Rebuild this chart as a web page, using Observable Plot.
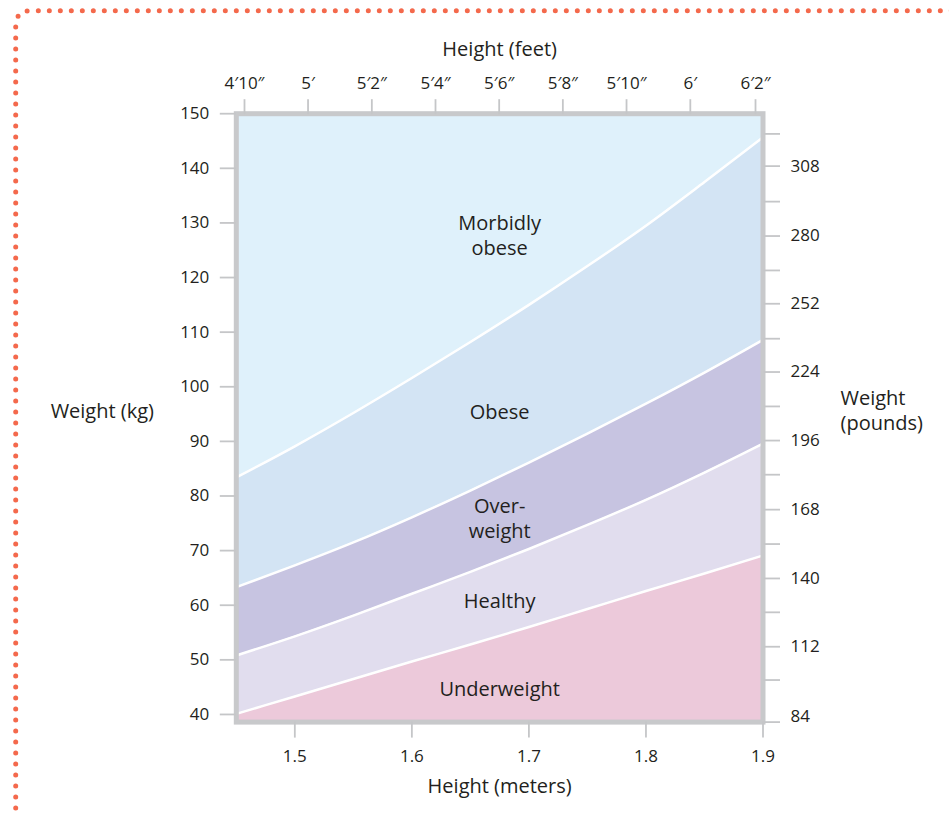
<!DOCTYPE html>
<html>
<head>
<meta charset="utf-8">
<script src="https://cdn.jsdelivr.net/npm/d3@7"></script>
<script src="https://cdn.jsdelivr.net/npm/@observablehq/plot@0.6"></script>
<style>
  html, body { margin: 0; padding: 0; background: #ffffff; }
  #page { position: relative; width: 949px; height: 816px; overflow: hidden; }
  #page > svg { position: absolute; left: 0; top: 0; }
  #border { pointer-events: none; }
</style>
</head>
<body>
<div id="page"></div>
<script>
// ---- data ----
const heightM       = [1.45, 1.50, 1.55, 1.60, 1.65, 1.70, 1.75, 1.80, 1.85, 1.90];
const underHealthy  = [40.1, 43.3, 46.5, 49.7, 52.8, 56.0, 59.3, 62.6, 65.8, 69.1];
const healthyOver   = [50.8, 54.3, 58.1, 62.1, 66.1, 70.3, 74.7, 79.3, 84.3, 89.6];
const overObese     = [63.3, 67.3, 71.5, 76.1, 81.0, 86.1, 91.4, 96.9, 102.6, 108.6];
const obeseMorbid   = [83.4, 89.1, 95.2, 101.6, 108.2, 115.0, 122.1, 129.5, 137.5, 145.7];

const xDomain = [1.45, 1.9];
const yDomain = [38.6, 150];

const leftTicksKg   = [40, 50, 60, 70, 80, 90, 100, 110, 120, 130, 140, 150];
const bottomTicksM  = [1.5, 1.6, 1.7, 1.8, 1.9];

const topTicksM     = [1.457, 1.5113, 1.5658, 1.6202, 1.6746, 1.7290, 1.7834, 1.8379, 1.8936];
const topTickLabels = ["4\u203210\u2033", "5\u2032", "5\u20322\u2033", "5\u20324\u2033", "5\u20326\u2033", "5\u20328\u2033", "5\u203210\u2033", "6\u2032", "6\u20322\u2033"];

const rightTicksKg  = [38.6, 46.3, 52.4, 58.7, 64.9, 71.2, 77.5, 83.9, 90.15, 96.4, 102.7, 108.8, 115.2, 121.3, 127.6, 133.9, 140.4, 146.3];
const rightLabelLb  = [112, 140, 168, 196, 224, 252, 280, 308];
const rightLabelKg  = [52.4, 64.9, 77.5, 90.15, 102.7, 115.2, 127.6, 140.4];
const bottomLabelLb = [84];
const bottomLabelKg = [38.6];

const regionNames = ["Morbidly\nobese", "Obese", "Over-\nweight", "Healthy", "Underweight"];
const regionX     = [1.675, 1.675, 1.675, 1.675, 1.675];
const regionY     = [127.8, 95.6, 76.0, 61.0, 44.9];

// ---- build table ----
const rows = heightM.map((h, i) => ({
  h, a: underHealthy[i], b: healthyOver[i], c: overObese[i], d: obeseMorbid[i]
}));
const regions = regionNames.map((t, i) => ({t, x: regionX[i], y: regionY[i]}));
const topMap = new Map(topTicksM.map((m, i) => [m, topTickLabels[i]]));

const textColor = "#231f20";
const tickColor = "#c5c6c8";
const curve = "monotone-x";

const chart = Plot.plot({
  width: 949,
  height: 816,
  marginLeft: 235.8,
  marginRight: 186.5,
  marginTop: 113.2,
  marginBottom: 94.4,
  style: {fontFamily: "'Open Sans', 'Noto Sans', sans-serif", fontSize: "17px", color: textColor, background: "transparent"},
  x: {domain: xDomain},
  y: {domain: yDomain},
  marks: [
    Plot.areaY(rows, {x: "h", y1: yDomain[0], y2: "a", fill: "#ecc9da", curve}),
    Plot.areaY(rows, {x: "h", y1: "a", y2: "b", fill: "#e1ddee", curve}),
    Plot.areaY(rows, {x: "h", y1: "b", y2: "c", fill: "#c7c4e1", curve}),
    Plot.areaY(rows, {x: "h", y1: "c", y2: "d", fill: "#d3e4f4", curve}),
    Plot.areaY(rows, {x: "h", y1: "d", y2: yDomain[1], fill: "#dff1fb", curve}),
    Plot.lineY(rows, {x: "h", y: "a", stroke: "white", strokeWidth: 2.5, curve}),
    Plot.lineY(rows, {x: "h", y: "b", stroke: "white", strokeWidth: 2.5, curve}),
    Plot.lineY(rows, {x: "h", y: "c", stroke: "white", strokeWidth: 2.5, curve}),
    Plot.lineY(rows, {x: "h", y: "d", stroke: "white", strokeWidth: 2.5, curve}),
    Plot.frame({stroke: "#c8c9cb", strokeWidth: 5}),

    Plot.axisY({anchor: "left", ticks: leftTicksKg, tickFormat: d => String(d), tickSize: 16, tickPadding: 11,
      stroke: tickColor, fill: textColor, strokeWidth: 1.8, label: null}),
    Plot.axisX({anchor: "bottom", ticks: bottomTicksM, tickFormat: d => d.toFixed(1), tickSize: 16, tickPadding: 12,
      stroke: tickColor, fill: textColor, strokeWidth: 1.8, label: null}),
    Plot.axisX({anchor: "top", ticks: topTicksM, tickFormat: d => topMap.get(d), tickSize: 15, tickPadding: 10,
      stroke: tickColor, fill: textColor, strokeWidth: 1.8, label: null}),
    Plot.axisY({anchor: "right", ticks: rightTicksKg, tickFormat: () => "", tickSize: 16.5, tickPadding: 0,
      stroke: tickColor, fill: textColor, strokeWidth: 1.8, label: null}),

    Plot.text(rightLabelLb, {y: (d, i) => rightLabelKg[i], text: d => String(d), frameAnchor: "right",
      dx: 27.5, textAnchor: "start", fill: textColor}),
    Plot.text(bottomLabelLb, {y: (d, i) => bottomLabelKg[i], text: d => String(d), frameAnchor: "right",
      dx: 27.5, dy: -6, textAnchor: "start", fill: textColor}),

    Plot.text(regions, {x: "x", y: "y", text: "t", fontSize: 20, lineHeight: 1.25, fill: textColor}),

    Plot.text(["Height (feet)"], {frameAnchor: "top", lineAnchor: "middle", dy: -64, fontSize: 20, fill: textColor}),
    Plot.text(["Height (meters)"], {frameAnchor: "bottom", lineAnchor: "middle", dy: 64.5, fontSize: 20, fill: textColor}),
    Plot.text(["Weight (kg)"], {frameAnchor: "left", textAnchor: "middle", dx: -134, dy: -6.4, fontSize: 20, fill: textColor}),
    Plot.text(["Weight\n(pounds)"], {frameAnchor: "right", dx: 77.5, dy: -8.4, textAnchor: "start",
      fontSize: 20, lineHeight: 1.22, fill: textColor})
  ]
});

const page = document.getElementById("page");
page.appendChild(chart);

// dotted decorative border
const ns = "http://www.w3.org/2000/svg";
const b = document.createElementNS(ns, "svg");
b.setAttribute("id", "border");
b.setAttribute("width", 949);
b.setAttribute("height", 816);
const p = document.createElementNS(ns, "path");
p.setAttribute("d", "M15.7,830 V26 Q15.7,10.7 31,10.7 H960");
p.setAttribute("fill", "none");
p.setAttribute("stroke", "#f4694c");
p.setAttribute("stroke-width", 5);
p.setAttribute("stroke-linecap", "round");
p.setAttribute("stroke-dasharray", "0 11");
b.appendChild(p);
page.appendChild(b);
</script>
</body>
</html>
